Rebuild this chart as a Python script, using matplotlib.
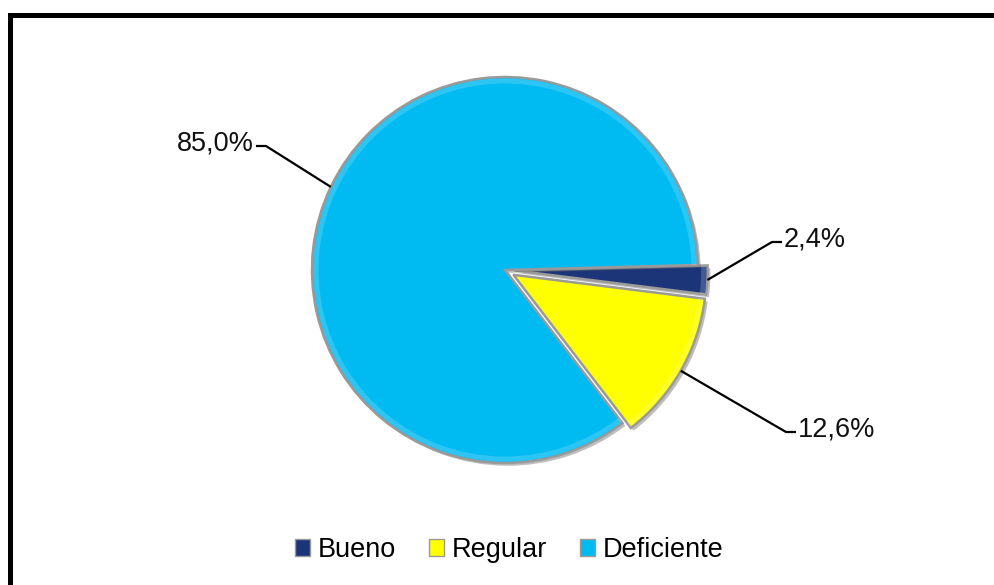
import matplotlib
matplotlib.use('Agg')
import matplotlib.pyplot as plt
import matplotlib.patheffects as pe
from matplotlib.patches import Rectangle, Wedge
import numpy as np

plt.rcParams['font.family'] = ['Liberation Sans', 'DejaVu Sans']

categories = ['Bueno', 'Regular', 'Deficiente']
values = [2.4, 12.6, 85.0]
colors = ['#1C3578', '#FFFF00', '#00BAF2']
explode_frac = [0.05, 0.05, 0.0]

# label text anchor points (pixels from top-left)
label_pos = {'Bueno': (784, 242, 'left'),
             'Regular': (798, 432, 'left'),
             'Deficiente': (254, 146, 'right')}

W, H = 995, 585
fig = plt.figure(figsize=(W / 100, H / 100), dpi=100)
fig.patch.set_facecolor('white')

# axes in pixel units (y up), so pie radius/center are in pixels
ax = fig.add_axes([0, 0, 1, 1])
ax.set_xlim(0, W)
ax.set_ylim(0, H)
ax.axis('off')

cx, cy, r = 505, H - 270, 193
wedges, _ = ax.pie(values, colors=colors, explode=[e * r for e in explode_frac],
                   startangle=1.5, counterclock=False, center=(cx, cy), radius=r,
                   wedgeprops=dict(edgecolor='#9A9A9A', linewidth=1.8))
ax.set_xlim(0, W)
ax.set_ylim(0, H)

for w in wedges:
    w.set_path_effects([pe.SimplePatchShadow(offset=(2, -2), shadow_rgbFace='#707070', alpha=0.45),
                        pe.Normal()])
    # soft bevel along the rim
    ring = Wedge(w.center, w.r - 1.5, w.theta1, w.theta2, width=5,
                 facecolor='white', alpha=0.18, edgecolor='none')
    ax.add_patch(ring)

for w, cat, val in zip(wedges, categories, values):
    mid = np.deg2rad((w.theta1 + w.theta2) / 2)
    wx, wy = w.center
    px = wx + w.r * np.cos(mid)
    py = wy + w.r * np.sin(mid)
    tx, ty, ha = label_pos[cat]
    ty = H - ty
    ex = tx - 12 if ha == 'left' else tx + 12
    ax.plot([px, ex, tx - 2 if ha == 'left' else tx + 2], [py, ty, ty],
            color='black', linewidth=1.6, solid_capstyle='butt')
    ax.text(tx, ty + 3, f'{val:.1f}%'.replace('.', ','), ha=ha, va='center',
            fontsize=19.5, color='#111111')

leg = fig.legend(wedges, categories, loc='center', bbox_to_anchor=(0.512, 1 - 550 / H),
                 ncol=3, frameon=False, fontsize=19.5, handlelength=0.55, handleheight=0.55,
                 handletextpad=0.3, columnspacing=1.2)
for h in leg.legend_handles:
    h.set_edgecolor('#9A9A9A')
    h.set_linewidth(1.0)
    h.set_path_effects([])

# heavy frame around the chart area
fig.patches.append(Rectangle((10.5 / W, -0.5), 2, 1.5 - 14.5 / H, transform=fig.transFigure,
                             fill=False, edgecolor='black', linewidth=3.6, zorder=10))

plt.savefig('out.png', dpi=100, facecolor='white')
